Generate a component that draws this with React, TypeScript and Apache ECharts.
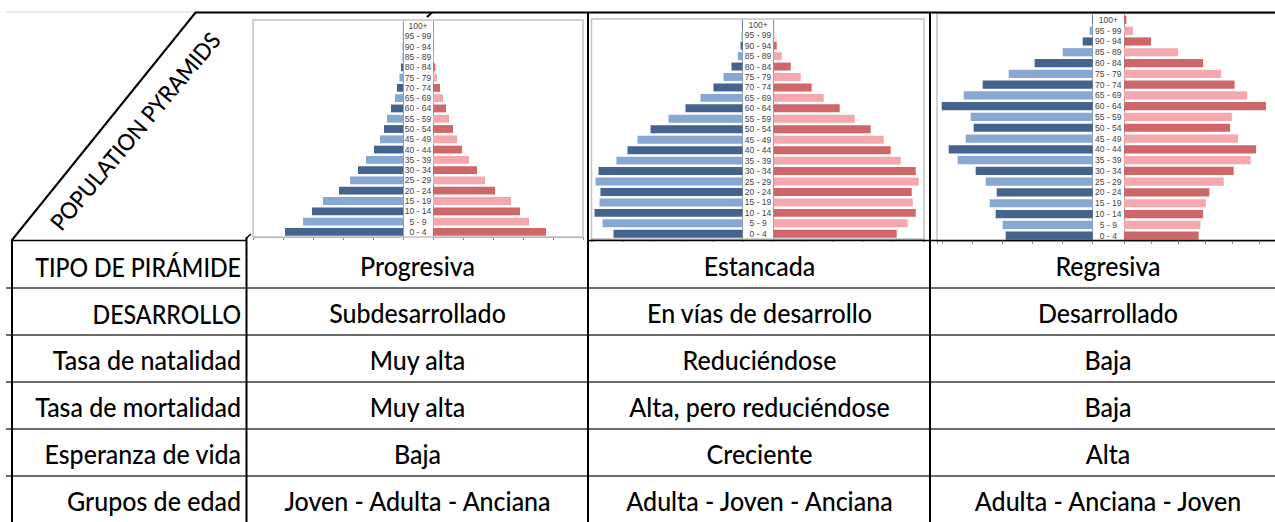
import React, { useEffect, useRef } from "react";
import * as echarts from "echarts";

const AGE_GROUPS = [
  "0 - 4", "5 - 9", "10 - 14", "15 - 19", "20 - 24", "25 - 29", "30 - 34",
  "35 - 39", "40 - 44", "45 - 49", "50 - 54", "55 - 59", "60 - 64", "65 - 69",
  "70 - 74", "75 - 79", "80 - 84", "85 - 89", "90 - 94", "95 - 99", "100+",
];

const PROGRESIVA_HOMBRES = [118, 100, 91, 80, 64, 53, 45, 37, 29, 23, 19, 16, 12, 8, 6, 3.5, 2, 0.6, 0.3, 0.2, 0.1];
const PROGRESIVA_MUJERES = [113, 96, 87, 78, 62, 52, 44, 36, 29, 24, 20, 16, 13, 10, 7, 4, 2.3, 0.8, 0.4, 0.2, 0.1];
const ESTANCADA_HOMBRES = [129, 140, 148, 143, 142, 147, 144, 126, 115, 105, 92, 74, 57, 42, 29, 19, 11, 4.6, 2, 1, 0.6];
const ESTANCADA_MUJERES = [123, 134, 142, 139, 138, 145, 142, 127, 117, 110, 97, 81, 66, 50, 38, 27, 17, 8, 3, 0.8, 0.4];
const REGRESIVA_HOMBRES = [87, 90, 97, 103, 96, 107, 117, 135, 144, 127, 119, 122, 151, 129, 110, 84, 58, 30, 10, 3, 0.7];
const REGRESIVA_MUJERES = [83, 85, 88, 91, 95, 111, 122, 141, 147, 127, 118, 120, 158, 137, 123, 108, 88, 60, 30, 10, 2.7];

const TITLE = "POPULATION PYRAMIDS";
const ROW_LABELS = [
  "TIPO DE PIRÁMIDE", "DESARROLLO", "Tasa de natalidad",
  "Tasa de mortalidad", "Esperanza de vida", "Grupos de edad",
];
const PROGRESIVA_TEXTS = ["Progresiva", "Subdesarrollado", "Muy alta", "Muy alta", "Baja", "Joven - Adulta - Anciana"];
const ESTANCADA_TEXTS = ["Estancada", "En vías de desarrollo", "Reduciéndose", "Alta, pero reduciéndose", "Creciente", "Adulta - Joven - Anciana"];
const REGRESIVA_TEXTS = ["Regresiva", "Desarrollado", "Baja", "Baja", "Alta", "Adulta - Anciana - Joven"];

const MALE_DARK = "#44638f";
const MALE_LIGHT = "#87a8d3";
const FEMALE_DARK = "#cf6668";
const FEMALE_LIGHT = "#f4a8ad";

function measure(text: string, size: number, family: string, weight: number): number {
  const c = document.createElement("canvas").getContext("2d");
  if (!c) return text.length * size * 0.5;
  c.font = `${weight} ${size}px ${family}`;
  return c.measureText(text).width;
}

export default function App() {
  const ref = useRef<HTMLDivElement>(null);

  useEffect(() => {
    if (!ref.current) return;
    const chart = echarts.init(ref.current, null, { renderer: "svg" });

    const FONT = "Lato";
    const FW = 500;
    const FS = 26.5;
    const sx = 268 / measure("Joven - Adulta - Anciana", FS, FONT, FW);
    const sxCaps = 206 / measure("TIPO DE PIRÁMIDE", FS, FONT, FW);
    const TFS = 23;
    const tsx = 250 / measure(TITLE, TFS, FONT, FW);

    const layouts = [
      { male: PROGRESIVA_HOMBRES, female: PROGRESIVA_MUJERES, frameL: 253, frameR: 583, frameT: 20, frameB: 237, top: 21, h: 216, mBase: 403, fBase: 433 },
      { male: ESTANCADA_HOMBRES, female: ESTANCADA_MUJERES, frameL: 591.5, frameR: 924, frameT: 19, frameB: 239, top: 19.5, h: 219.5, mBase: 742.5, fBase: 773.7 },
      { male: REGRESIVA_HOMBRES, female: REGRESIVA_MUJERES, frameL: 937, frameR: 1292, frameT: 13.5, frameB: 241, top: 14.5, h: 226.5, mBase: 1092.7, fBase: 1124 },
    ];

    const grid: any[] = [];
    const xAxis: any[] = [];
    const yAxis: any[] = [];
    const series: any[] = [];
    const elements: any[] = [];

    const axisLineStyle = { show: true, lineStyle: { color: "#8a8a8a", width: 1 } };

    layouts.forEach((p) => {
      const gm = grid.length;
      const gf = gm + 1;
      const mw = p.mBase - p.frameL;
      const fw = p.frameR - p.fBase;
      grid.push({ left: p.frameL, top: p.top, width: mw, height: p.h });
      grid.push({ left: p.fBase, top: p.top, width: fw, height: p.h });

      xAxis.push({
        type: "value", gridIndex: gm, inverse: true, min: 0, max: mw, interval: 30,
        axisLine: axisLineStyle,
        axisTick: { show: true, length: 3, lineStyle: { color: "#8a8a8a" } },
        axisLabel: { show: false }, splitLine: { show: false },
      });
      xAxis.push({
        type: "value", gridIndex: gf, min: 0, max: fw, interval: 30,
        axisLine: axisLineStyle,
        axisTick: { show: true, length: 3, lineStyle: { color: "#8a8a8a" } },
        axisLabel: { show: false }, splitLine: { show: false },
      });
      yAxis.push({
        type: "category", gridIndex: gm, data: AGE_GROUPS, position: "right",
        axisLine: { show: true, lineStyle: { color: "#9a9a9a", width: 1 } },
        axisTick: { show: false }, axisLabel: { show: false },
      });
      yAxis.push({
        type: "category", gridIndex: gf, data: AGE_GROUPS, position: "left",
        axisLine: { show: true, lineStyle: { color: "#9a9a9a", width: 1 } },
        axisTick: { show: false },
        axisLabel: {
          show: true, interval: 0, align: "center", margin: (p.fBase - p.mBase) / 2,
          fontSize: 8.5, fontFamily: "Liberation Sans", color: "#444",
        },
      });
      series.push({
        type: "bar", xAxisIndex: gm, yAxisIndex: gm, data: p.male, barCategoryGap: "24%", silent: true,
        itemStyle: { color: (q: any) => (q.dataIndex % 2 ? MALE_LIGHT : MALE_DARK) },
      });
      series.push({
        type: "bar", xAxisIndex: gf, yAxisIndex: gf, data: p.female, barCategoryGap: "24%", silent: true,
        itemStyle: { color: (q: any) => (q.dataIndex % 2 ? FEMALE_LIGHT : FEMALE_DARK) },
      });

      elements.push({
        type: "rect", z: 1, silent: true,
        shape: { x: p.frameL, y: p.frameT, width: p.frameR - p.frameL, height: p.frameB - p.frameT },
        style: { fill: "none", stroke: "#c2c2c2", lineWidth: 1.5 },
      });
    });

    const line = (x1: number, y1: number, x2: number, y2: number, color: string, w: number) => ({
      type: "line", z: 20, silent: true,
      shape: { x1, y1, x2, y2 },
      style: { stroke: color, lineWidth: w },
    });

    // faint spreadsheet gridlines
    elements.push(line(5, 12, 196, 12, "#d8d8d8", 1));
    // top border and diagonal
    elements.push(line(196, 12.5, 1275, 12.5, "#000", 2));
    elements.push(line(196, 12, 12, 240, "#000", 2));
    elements.push(line(427, 17, 432, 12.5, "#000", 2));
    elements.push(line(246.5, 238, 251, 234, "#000", 1.5));
    // table frame
    elements.push(line(12, 240.5, 246.5, 240.5, "#000", 1.5));
    elements.push(line(587.5, 240.5, 1275, 240.5, "#000", 1.5));
    [288, 335, 382, 429, 476].forEach((y) => elements.push(line(6, y, 1275, y, "#3a3a3a", 1.5)));
    elements.push(line(12, 239, 12, 522, "#000", 2));
    elements.push(line(246.5, 237, 246.5, 522, "#000", 2));
    elements.push(line(588, 12, 588, 522, "#000", 2));
    elements.push(line(930, 12, 930, 522, "#000", 2));

    const rowCenters = [266, 313, 360, 407, 454, 501];
    const txt = (text: string, x: number, y: number, align: string) => ({
      type: "text", z: 30, silent: true, x, y,
      scaleX: text === text.toUpperCase() ? sxCaps : sx,
      style: {
        text, x: 0, y: 0, fontSize: FS, fontFamily: FONT, fontWeight: FW, fill: "#000",
        align, textAlign: align, verticalAlign: "middle", textVerticalAlign: "middle",
      },
    });
    ROW_LABELS.forEach((t, i) => elements.push(txt(t, 241, rowCenters[i], "right")));
    PROGRESIVA_TEXTS.forEach((t, i) => elements.push(txt(t, 417.5, rowCenters[i], "center")));
    ESTANCADA_TEXTS.forEach((t, i) => elements.push(txt(t, 759.5, rowCenters[i], "center")));
    REGRESIVA_TEXTS.forEach((t, i) => elements.push(txt(t, 1108, rowCenters[i], "center")));

    elements.push({
      type: "text", z: 30, silent: true, x: 135, y: 131, rotation: (50 * Math.PI) / 180, scaleX: tsx,
      style: {
        text: TITLE, x: 0, y: 0, fontSize: TFS, fontFamily: FONT, fontWeight: FW, fill: "#000",
        align: "center", textAlign: "center", verticalAlign: "middle", textVerticalAlign: "middle",
      },
    });

    chart.setOption({
      animation: false,
      backgroundColor: "#fff",
      grid, xAxis, yAxis, series,
      graphic: { elements },
    });

    return () => chart.dispose();
  }, []);

  return (
    <div
      ref={ref}
      style={{ position: "absolute", left: 0, top: 0, width: 1275, height: 522, background: "#fff" }}
    />
  );
}
